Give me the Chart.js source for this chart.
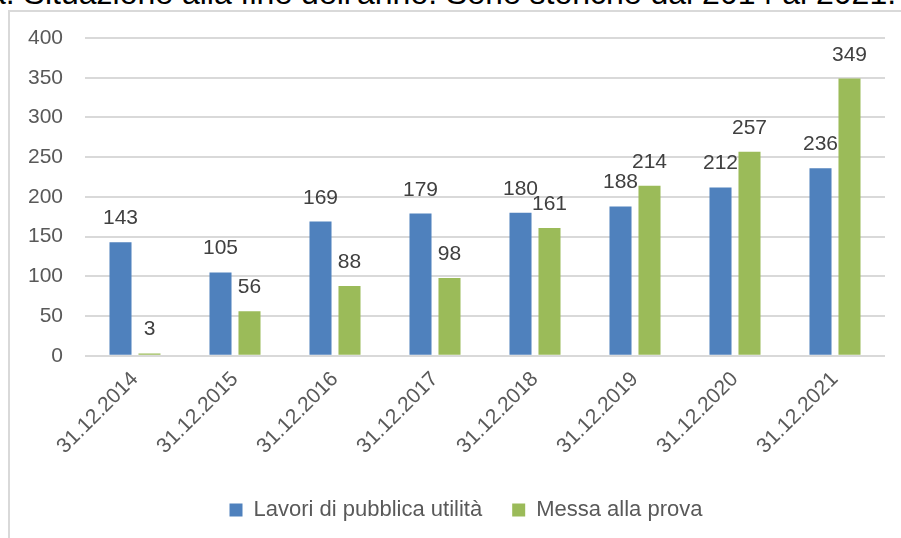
<!DOCTYPE html>
<html>
<head>
<meta charset="utf-8">
<script src="https://cdn.jsdelivr.net/npm/chart.js"></script>
<style>
  html, body { margin: 0; padding: 0; background: #fff; overflow: hidden; }
  body { width: 901px; height: 538px; position: relative; font-family: "Liberation Sans", Arial, sans-serif; }
  #title { position: absolute; left: -12px; top: -23px; font-size: 32px; line-height: 32px; color: #000; white-space: nowrap; }
  #frame { position: absolute; left: 8px; top: 10px; width: 900px; height: 540px; border-left: 2px solid #d9d9d9; border-top: 2px solid #d9d9d9; }
  #wrap { position: absolute; left: 5px; top: 12px; width: 896px; height: 526px; }
</style>
</head>
<body>
<div id="title">a. Situazione alla fine dell'anno. Serie storiche dal 2014 al 2021.</div>
<div id="frame"></div>
<div id="wrap"><canvas id="chart"></canvas></div>
<script>
// dati
const categories = ['31.12.2014', '31.12.2015', '31.12.2016', '31.12.2017', '31.12.2018', '31.12.2019', '31.12.2020', '31.12.2021'];
const lavoriPU = [143, 105, 169, 179, 180, 188, 212, 236];
const messaProva = [3, 56, 88, 98, 161, 214, 257, 349];
const yTicks = [0, 50, 100, 150, 200, 250, 300, 350, 400];

const FONT = '"Liberation Sans", Arial, sans-serif';

// etichette dei valori sopra le barre
const valueLabels = {
    id: 'valueLabels',
    afterLayout(chart) {
        // legenda un po' spostata (destra e in basso) come nell'originale
        if (chart.legend) {
            chart.legend.left += 21;
            chart.legend.right += 21;
            chart.legend.top += 7;
            chart.legend.bottom += 7;
        }
    },
    afterDatasetsDraw(chart) {
        const ctx = chart.ctx;
        ctx.save();
        ctx.font = '21px ' + FONT;
        ctx.fillStyle = '#404040';
        ctx.textAlign = 'center';
        ctx.textBaseline = 'alphabetic';
        chart.data.datasets.forEach((ds, i) => {
            chart.getDatasetMeta(i).data.forEach((bar, j) => {
                ctx.fillText(String(ds.data[j]), bar.x, bar.y - 18);
            });
        });
        ctx.restore();
    }
};

new Chart(document.getElementById('chart'), {
    type: 'bar',
    data: {
        labels: categories,
        datasets: [
            { label: 'Lavori di pubblica utilità', data: lavoriPU, backgroundColor: '#4f81bd', categoryPercentage: 0.58, barPercentage: 0.76 },
            { label: 'Messa alla prova', data: messaProva, backgroundColor: '#9bbb59', categoryPercentage: 0.58, barPercentage: 0.76 }
        ]
    },
    options: {
        responsive: true,
        maintainAspectRatio: false,
        animation: false,
        layout: { padding: { top: 26, right: 16, bottom: 14, left: 0 } },
        plugins: {
            tooltip: { enabled: false },
            legend: {
                position: 'bottom',
                labels: {
                    boxWidth: 13, boxHeight: 13, padding: 30,
                    color: '#595959',
                    font: { family: FONT, size: 22 }
                }
            }
        },
        scales: {
            x: {
                grid: { display: false },
                border: { display: false },
                ticks: {
                    minRotation: 45, maxRotation: 45,
                    color: '#595959',
                    font: { family: FONT, size: 21 }
                }
            },
            y: {
                min: 0, max: 400,
                afterBuildTicks: (axis) => { axis.ticks = yTicks.map(v => ({ value: v })); },
                afterFit: (axis) => { axis.width = 80; },
                grid: { color: '#d9d9d9', lineWidth: 2, drawTicks: true, tickLength: 22, tickColor: 'rgba(0,0,0,0)' },
                border: { display: false },
                ticks: {
                    padding: 0,
                    color: '#595959',
                    font: { family: FONT, size: 21 }
                }
            }
        }
    },
    plugins: [valueLabels]
});
</script>
</body>
</html>
